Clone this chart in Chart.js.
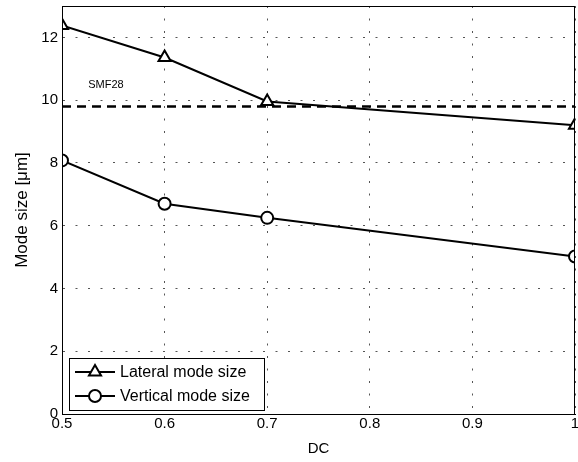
<!DOCTYPE html>
<html>
<head>
<meta charset="utf-8">
<script src="https://cdn.jsdelivr.net/npm/chart.js@4/dist/chart.umd.min.js"></script>
<style>
  html, body { margin: 0; padding: 0; background: #fff; }
  #wrap { width: 578px; height: 462px; position: relative; }
</style>
</head>
<body>
<div id="wrap"><canvas id="c"></canvas></div>
<script>
const dcValues = [0.5, 0.6, 0.7, 1.0];
const lateralSize = [12.38, 11.36, 9.96, 9.2];
const verticalSize = [8.08, 6.7, 6.25, 5.02];
const smfRange = [0.5, 1.0];
const smfSize = 9.8;
const smfLabel = 'SMF28';
const yTicks = [0, 2, 4, 6, 8, 10, 12];

const FONT = "'Liberation Sans', Arial, Helvetica, sans-serif";
const toPts = (xs, ys) => xs.map((x, i) => ({ x, y: ys[i] }));

// box around plot + SMF28 text + matlab style legend
const extras = {
  id: 'extras',
  afterDraw(chart) {
    const { ctx, chartArea: a, scales } = chart;
    ctx.save();
    ctx.strokeStyle = '#000';
    ctx.lineWidth = 1;
    ctx.strokeRect(a.left + 0.5, a.top + 0.5, a.right - a.left - 1, a.bottom - a.top);

    ctx.fillStyle = '#000';
    ctx.font = '11px ' + FONT;
    ctx.textBaseline = 'middle';
    ctx.fillText(smfLabel, scales.x.getPixelForValue(0.5255), scales.y.getPixelForValue(10.48));

    // legend
    const lx = 69, ly = 358, lw = 195, lh = 52;
    ctx.fillStyle = '#fff';
    ctx.fillRect(lx, ly, lw, lh);
    ctx.strokeRect(lx + 0.5, ly + 0.5, lw, lh);
    const items = chart.data.datasets.filter(d => !d.hideLegend);
    ctx.font = '16px ' + FONT;
    items.forEach((d, i) => {
      const y = ly + 14 + i * 24;
      ctx.strokeStyle = '#000';
      ctx.lineWidth = 2;
      ctx.beginPath(); ctx.moveTo(lx + 6, y); ctx.lineTo(lx + 46, y); ctx.stroke();
      ctx.fillStyle = '#fff';
      Chart.helpers.drawPoint(ctx, {
        pointStyle: d.pointStyle, radius: d.pointRadius, rotation: 0, borderWidth: 2
      }, lx + 26, y);
      ctx.fillStyle = '#000';
      ctx.textBaseline = 'middle';
      ctx.fillText(d.label, lx + 51, y + 1);
    });
    ctx.restore();
  }
};

new Chart(document.getElementById('c').getContext('2d'), {
  type: 'line',
  data: {
    datasets: [
      {
        label: 'Lateral mode size',
        data: toPts(dcValues, lateralSize),
        borderColor: '#000', borderWidth: 2,
        pointStyle: 'triangle', pointRadius: 7,
        pointBackgroundColor: '#fff', pointBorderColor: '#000', pointBorderWidth: 2
      },
      {
        label: 'Vertical mode size',
        data: toPts(dcValues, verticalSize),
        borderColor: '#000', borderWidth: 2,
        pointStyle: 'circle', pointRadius: 6,
        pointBackgroundColor: '#fff', pointBorderColor: '#000', pointBorderWidth: 2
      },
      {
        label: smfLabel,
        hideLegend: true,
        data: smfRange.map(x => ({ x, y: smfSize })),
        borderColor: '#000', borderWidth: 2.5, borderDash: [9, 6],
        pointRadius: 0
      }
    ]
  },
  options: {
    responsive: true,
    maintainAspectRatio: false,
    animation: false,
    layout: { autoPadding: false, padding: { left: 0, right: 3, top: 6, bottom: 0 } },
    plugins: { legend: { display: false }, tooltip: { enabled: false } },
    scales: {
      x: {
        type: 'linear', min: 0.5, max: 1,
        ticks: { stepSize: 0.1, color: '#000', font: { family: FONT, size: 15, lineHeight: 1 }, padding: 2, maxRotation: 0,
          callback: v => (Math.round(v * 10) / 10).toString() },
        grid: { color: '#555', lineWidth: 1, drawTicks: false },
        border: { display: true, color: '#000', dash: [2, 10.5] },
        title: { display: true, text: 'DC', color: '#000', font: { family: FONT, size: 15 }, padding: { top: 0 } },
        afterFit: s => { s.height = 48; s.paddingLeft = 0; s.paddingRight = 0; }
      },
      y: {
        min: 0, max: 13,
        afterBuildTicks: s => { s.ticks = yTicks.map(v => ({ value: v })); },
        ticks: { color: '#000', font: { family: FONT, size: 15, lineHeight: 0.8 }, padding: 4 },
        grid: { color: '#555', lineWidth: 1, drawTicks: false },
        border: { display: true, color: '#000', dash: [2, 10.5] },
        title: { display: true, text: 'Mode size [μm]', color: '#000', font: { family: FONT, size: 17 }, padding: { top: 12, bottom: 0 } },
        afterFit: s => { s.width = 62; s.paddingTop = 0; s.paddingBottom = 0; }
      }
    }
  },
  plugins: [extras]
});
</script>
</body>
</html>
